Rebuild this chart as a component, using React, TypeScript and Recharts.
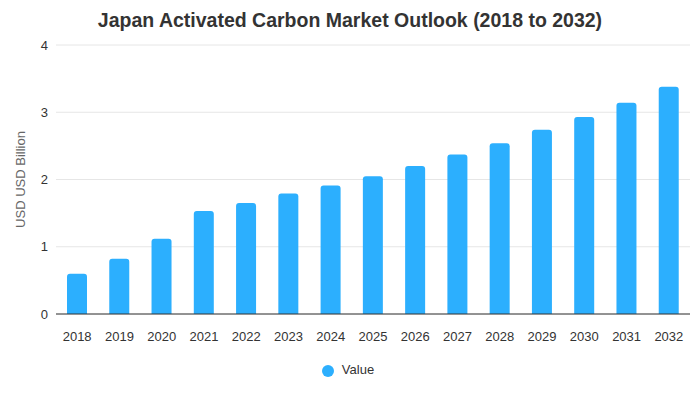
import React from 'react';
import { BarChart, Bar, XAxis, YAxis, CartesianGrid, Legend } from 'recharts';

const years = ['2018', '2019', '2020', '2021', '2022', '2023', '2024', '2025', '2026', '2027', '2028', '2029', '2030', '2031', '2032'];
const values = [0.6, 0.82, 1.12, 1.53, 1.65, 1.79, 1.91, 2.05, 2.2, 2.37, 2.54, 2.74, 2.93, 3.14, 3.38];
const yTicks = [0, 1, 2, 3, 4];

const data = years.map((year, i) => ({ year, Value: values[i] }));

const FONT = '"Liberation Sans", Arial, sans-serif';

export default function App() {
  return (
    <div style={{ position: 'absolute', left: 0, top: 0, width: 700, height: 400, fontFamily: FONT, background: '#fff' }}>
      <div
        style={{
          position: 'absolute',
          top: 9,
          left: 0,
          width: 700,
          textAlign: 'center',
          fontSize: 19.5,
          fontWeight: 'bold',
          color: '#333',
        }}
      >
        Japan Activated Carbon Market Outlook (2018 to 2032)
      </div>
      <BarChart width={700} height={400} data={data} margin={{ top: 45, right: 10, left: 0, bottom: 41 }}>
        <CartesianGrid vertical={false} stroke="#e6e6e6" />
        <XAxis
          dataKey="year"
          tickLine={false}
          axisLine={{ stroke: '#333' }}
          tick={{ fill: '#333', fontSize: 13, fontFamily: FONT }}
          tickMargin={12}
          interval={0}
        />
        <YAxis
          width={56}
          domain={[0, 4]}
          ticks={yTicks}
          tickLine={false}
          axisLine={false}
          tick={{ fill: '#333', fontSize: 13, fontFamily: FONT }}
          label={{
            value: 'USD USD Billion',
            angle: -90,
            position: 'insideLeft',
            offset: 20,
            style: { textAnchor: 'middle', fill: '#666', fontSize: 13, fontFamily: FONT },
          }}
        />
        <Legend
          verticalAlign="bottom"
          iconType="circle"
          iconSize={12}
          wrapperStyle={{ fontSize: 13, fontFamily: FONT, top: 362, bottom: 'auto', paddingLeft: 8 }}
          formatter={(v: string) => <span style={{ color: '#333', marginLeft: 4 }}>{v}</span>}
        />
        <Bar dataKey="Value" fill="#2caffe" barSize={20} radius={[3, 3, 0, 0]} isAnimationActive={false} />
      </BarChart>
    </div>
  );
}
